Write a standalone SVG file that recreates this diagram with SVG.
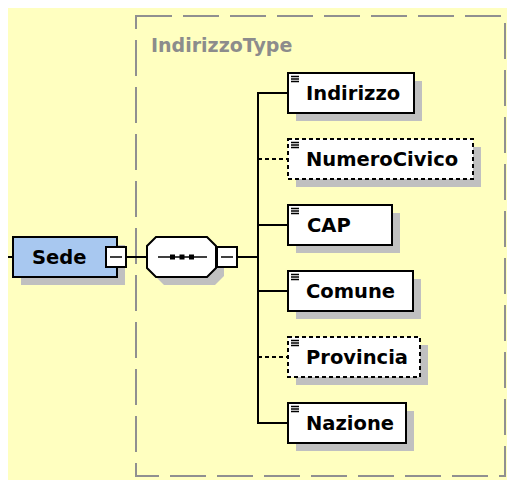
<svg xmlns="http://www.w3.org/2000/svg" width="507" height="480" viewBox="0 0 507 480">
<style>
.bg{fill:#FFFFC0}
.shadow{fill:#C0C0C0}
.box{fill:#FFFFFF;stroke:#000;stroke-width:2}
.opt{fill:#FFFFFF;stroke:#000;stroke-width:2;stroke-dasharray:4 3}
.root{fill:#A8C8F0;stroke:#000;stroke-width:2}
.lbl{font-family:"DejaVu Sans",Verdana,sans-serif;font-weight:bold;font-size:19.5px;fill:#000}
.type{font-family:"DejaVu Sans",Verdana,sans-serif;font-weight:bold;font-size:19px;fill:#8C8C8C}
.ln{stroke:#000;stroke-width:2;fill:none}
.dln{stroke:#000;stroke-width:2;fill:none;stroke-dasharray:4 3}
.ico{stroke:#000;stroke-width:1.3}
.frame{fill:none;stroke:#909090;stroke-width:2;stroke-dasharray:36 11}
</style>
<rect width="507" height="480" fill="#FFFFFF"/>
<rect class="bg" x="8" y="8" width="499" height="472"/>
<g id="IndirizzoType">
<rect class="frame" x="136" y="16" width="369" height="460"/>
<text class="type" x="151" y="52">IndirizzoType</text>
</g>
<g id="connectors">
<line class="ln" x1="8" y1="257" x2="13" y2="257"/>
<line class="ln" x1="126" y1="257" x2="147" y2="257"/>
<line class="ln" x1="237" y1="257" x2="258" y2="257"/>
<line class="ln" x1="258" y1="92" x2="258" y2="424"/>
<line class="ln" x1="258" y1="93" x2="288" y2="93"/>
<line class="dln" x1="258" y1="159" x2="288" y2="159"/>
<line class="ln" x1="258" y1="225" x2="288" y2="225"/>
<line class="ln" x1="258" y1="291" x2="288" y2="291"/>
<line class="dln" x1="258" y1="357" x2="288" y2="357"/>
<line class="ln" x1="258" y1="423" x2="288" y2="423"/>
</g>
<g id="Sede">
<rect class="shadow" x="21" y="245" width="104" height="40"/>
<rect class="root" x="13" y="237" width="104" height="40"/>
<text class="lbl" x="32" y="264">Sede</text>
<rect class="box" x="106" y="247" width="20" height="20"/>
<line class="ico" x1="110" y1="257" x2="122" y2="257" style="stroke-width:1.5"/>
</g>
<g id="sequence">
<polygon class="shadow" points="164,245 215,245 224,254 224,276 215,285 164,285 155,276 155,254"/>
<polygon class="box" points="156,237 207,237 216,246 216,268 207,277 156,277 147,268 147,246"/>
<line class="ln" x1="158" y1="257" x2="207" y2="257" style="stroke-width:1.5"/>
<rect x="170" y="254.5" width="5" height="5" fill="#000"/>
<rect x="179.5" y="254.5" width="5" height="5" fill="#000"/>
<rect x="189" y="254.5" width="5" height="5" fill="#000"/>
<rect class="box" x="217" y="247" width="20" height="20"/>
<line class="ico" x1="221" y1="257" x2="233" y2="257" style="stroke-width:1.5"/>
</g>
<g id="Indirizzo">
<rect class="shadow" x="296" y="81" width="126" height="40"/>
<rect class="box" x="288" y="73" width="126" height="40"/>
<path class="ico" d="M291 76.5h8M291 79h8M291 81.5h8"/>
<text class="lbl" x="306" y="100">Indirizzo</text>
</g>
<g id="NumeroCivico">
<rect class="shadow" x="296" y="147" width="185" height="40"/>
<rect class="opt" x="288" y="139" width="185" height="40"/>
<path class="ico" d="M291 142.5h8M291 145h8M291 147.5h8"/>
<text class="lbl" x="306" y="166">NumeroCivico</text>
</g>
<g id="CAP">
<rect class="shadow" x="296" y="213" width="104" height="40"/>
<rect class="box" x="288" y="205" width="104" height="40"/>
<path class="ico" d="M291 208.5h8M291 211h8M291 213.5h8"/>
<text class="lbl" x="307" y="232">CAP</text>
</g>
<g id="Comune">
<rect class="shadow" x="296" y="279" width="125" height="40"/>
<rect class="box" x="288" y="271" width="125" height="40"/>
<path class="ico" d="M291 274.5h8M291 277h8M291 279.5h8"/>
<text class="lbl" x="306" y="298">Comune</text>
</g>
<g id="Provincia">
<rect class="shadow" x="296" y="345" width="132" height="40"/>
<rect class="opt" x="288" y="337" width="132" height="40"/>
<path class="ico" d="M291 340.5h8M291 343h8M291 345.5h8"/>
<text class="lbl" x="306" y="364">Provincia</text>
</g>
<g id="Nazione">
<rect class="shadow" x="296" y="411" width="118" height="40"/>
<rect class="box" x="288" y="403" width="118" height="40"/>
<path class="ico" d="M291 406.5h8M291 409h8M291 411.5h8"/>
<text class="lbl" x="306" y="430">Nazione</text>
</g>
</svg>
